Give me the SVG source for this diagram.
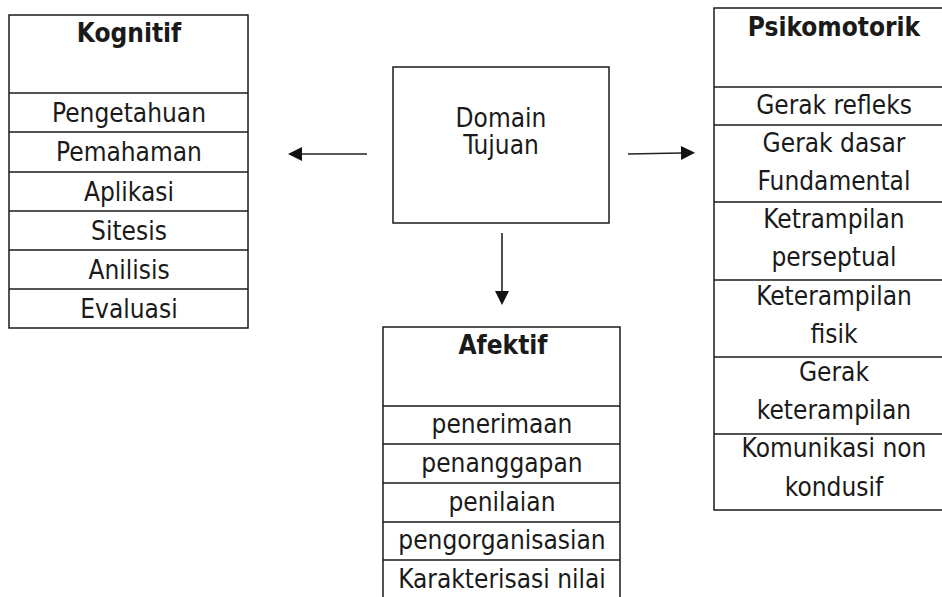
<svg xmlns="http://www.w3.org/2000/svg" width="942" height="597" viewBox="0 0 942 597">
<style>
.box{fill:#fff;stroke:#1a1a1a;stroke-width:1.5}
.ln{stroke:#1a1a1a;stroke-width:1.5}
text{font-family:"DejaVu Sans Condensed","DejaVu Sans","Liberation Sans",sans-serif;font-stretch:condensed;font-size:26px;fill:#1a1a1a;text-anchor:middle}
.t{font-weight:bold}
.con{stroke:#222;stroke-width:1.6;fill:none}
</style>
<defs>
<marker id="ah" viewBox="0 0 14 14" refX="0" refY="7" markerWidth="14" markerHeight="14" markerUnits="userSpaceOnUse" orient="auto">
<path d="M0,0 L14,7 L0,14 Z" fill="#111"/>
</marker>
</defs>
<rect width="942" height="597" fill="#fff"/>
<g id="kognitif">
<rect class="box" x="9" y="15" width="239" height="313"/>
<line class="ln" x1="9" y1="93" x2="248" y2="93"/>
<line class="ln" x1="9" y1="132" x2="248" y2="132"/>
<line class="ln" x1="9" y1="172" x2="248" y2="172"/>
<line class="ln" x1="9" y1="211" x2="248" y2="211"/>
<line class="ln" x1="9" y1="250" x2="248" y2="250"/>
<line class="ln" x1="9" y1="289" x2="248" y2="289"/>
<text class="t" x="129" y="42">Kognitif</text>
<text x="129" y="122">Pengetahuan</text>
<text x="129" y="161">Pemahaman</text>
<text x="129" y="201">Aplikasi</text>
<text x="129" y="240">Sitesis</text>
<text x="129" y="279">Anilisis</text>
<text x="129" y="318">Evaluasi</text>
</g>
<g id="domain">
<rect class="box" x="393" y="67" width="216" height="156"/>
<text x="501" y="127">Domain</text>
<text x="501" y="154">Tujuan</text>
</g>
<g id="psikomotorik">
<rect class="box" x="714" y="8" width="242" height="502"/>
<line class="ln" x1="714" y1="87" x2="956" y2="87"/>
<line class="ln" x1="714" y1="125" x2="956" y2="125"/>
<line class="ln" x1="714" y1="202" x2="956" y2="202"/>
<line class="ln" x1="714" y1="280" x2="956" y2="280"/>
<line class="ln" x1="714" y1="357" x2="956" y2="357"/>
<line class="ln" x1="714" y1="434" x2="956" y2="434"/>
<text class="t" x="834" y="36">Psikomotorik</text>
<text x="834" y="114">Gerak refleks</text>
<text x="834" y="152">Gerak dasar</text>
<text x="834" y="190">Fundamental</text>
<text x="834" y="228">Ketrampilan</text>
<text x="834" y="266">perseptual</text>
<text x="834" y="305">Keterampilan</text>
<text x="834" y="343">fisik</text>
<text x="834" y="381">Gerak</text>
<text x="834" y="419">keterampilan</text>
<text x="834" y="457">Komunikasi non</text>
<text x="834" y="496">kondusif</text>
</g>
<g id="afektif">
<rect class="box" x="383" y="327" width="237" height="290"/>
<line class="ln" x1="383" y1="406" x2="620" y2="406"/>
<line class="ln" x1="383" y1="444" x2="620" y2="444"/>
<line class="ln" x1="383" y1="483" x2="620" y2="483"/>
<line class="ln" x1="383" y1="522" x2="620" y2="522"/>
<line class="ln" x1="383" y1="560" x2="620" y2="560"/>
<text class="t" x="503" y="354">Afektif</text>
<text x="502" y="433">penerimaan</text>
<text x="502" y="472">penanggapan</text>
<text x="502" y="511">penilaian</text>
<text x="502" y="549">pengorganisasian</text>
<text x="502" y="588">Karakterisasi nilai</text>
</g>
<g id="connectors">
<line class="con" x1="367" y1="154" x2="302" y2="154" marker-end="url(#ah)"/>
<line class="con" x1="628" y1="154" x2="681" y2="153" marker-end="url(#ah)"/>
<line class="con" x1="502" y1="233" x2="502" y2="291" marker-end="url(#ah)"/>
</g>
</svg>
